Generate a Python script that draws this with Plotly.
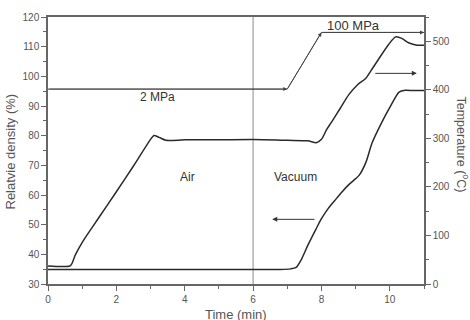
import plotly.graph_objects as go

# Relative density curve (left axis)
dens_t = [0, 1, 2, 3, 4, 5, 6, 6.8, 7.1, 7.26, 7.4, 7.6, 7.84, 8.0, 8.2, 8.43, 8.6, 8.8, 9.0, 9.1,
          9.3, 9.48, 9.78, 10.0, 10.27, 10.45, 10.7, 11.0]
dens_v = [34.9, 34.9, 34.9, 34.9, 34.85, 34.85, 34.85, 34.9, 35.1, 35.6, 38, 43, 48.5, 52, 55.5, 58.7, 61, 63.5, 65.5, 66.6,
          71, 77.5, 84.8, 89.5, 94.7, 95.3, 95.2, 95.2]

# Temperature curve (right axis)
temp_t = [0, 0.64, 0.7, 0.8, 1.02, 1.5, 2.0, 2.5, 3.0, 3.1, 3.25, 3.45, 4, 5, 6, 7, 7.6, 7.85, 8.0, 8.15,
          8.3, 8.55, 8.8, 9.05, 9.3, 9.5, 9.68, 9.97, 10.17, 10.35, 10.55, 10.8, 11.0]
temp_v = [37, 37, 42, 60, 88, 138, 190, 243, 298, 306, 302, 296, 297, 297, 297.5, 296, 295, 291, 298, 318,
          334, 362, 390, 410, 424, 445, 464, 494, 509, 506, 497, 492, 492]

# Pressure program path (left-axis units)
press_t = [0, 7.0, 8.0, 11.0]
press_v = [95.7, 95.7, 114.8, 114.8]

divider_t = 6
labels = ["2 MPa", "100 MPa", "Air", "Vacuum"]
label_t = [3.2, 8.95, 4.08, 7.25]
label_v = [93, 117, 66, 66]

# curve-identifying arrows: (tail_t, tail_v, head_t, head_v)
arrow_right = (9.53, 101, 10.79, 101)
arrow_left = (7.84, 51.8, 6.56, 51.8)

axis_col = "#666666"
text_col = "#555555"
curve_col = "#2a2a2a"
font = "Liberation Sans, Arial, sans-serif"

fig = go.Figure()
fig.add_trace(go.Scatter(x=press_t, y=press_v, mode="lines",
                         line=dict(color="#444444", width=1), showlegend=False))
fig.add_trace(go.Scatter(x=dens_t, y=dens_v, mode="lines",
                         line=dict(color=curve_col, width=1.5, shape="spline", smoothing=0.7),
                         showlegend=False))
fig.add_trace(go.Scatter(x=temp_t, y=temp_v, mode="lines", yaxis="y2",
                         line=dict(color=curve_col, width=1.5, shape="spline", smoothing=0.7),
                         showlegend=False))

fig.add_shape(type="line", x0=divider_t, x1=divider_t, y0=0, y1=1, xref="x", yref="paper",
              line=dict(color="#8a8a8a", width=1), layer="below")

ann = []
sizes = [12, 13, 12, 12]
for txt, t, v, s in zip(labels, label_t, label_v, sizes):
    ann.append(dict(x=t, y=v, xref="x", yref="y", text=txt, showarrow=False,
                    font=dict(size=s, color="#333333", family=font)))
# pressure arrowheads
for i in range(1, len(press_t)):
    ann.append(dict(x=press_t[i], y=press_v[i], ax=press_t[i-1], ay=press_v[i-1],
                    xref="x", yref="y", axref="x", ayref="y", text="", showarrow=True,
                    arrowhead=2, arrowsize=1, arrowwidth=0.8, arrowcolor="#444444"))
for a in (arrow_right, arrow_left):
    ann.append(dict(x=a[2], y=a[3], ax=a[0], ay=a[1], xref="x", yref="y", axref="x", ayref="y",
                    text="", showarrow=True, arrowhead=2, arrowsize=1, arrowwidth=1,
                    arrowcolor="#333333"))
ann.append(dict(x=1.0, y=0.5, xref="paper", yref="paper", xshift=39, yshift=6,
                xanchor="center", yanchor="middle",
                text="Temperature (<sup>o</sup>C)", textangle=90, showarrow=False,
                font=dict(size=12.5, color=text_col, family=font)))
ann.append(dict(x=0.0, y=0.5, xref="paper", yref="paper", xshift=-38, yshift=-1,
                xanchor="center", yanchor="middle",
                text="Relatvie density (%)", textangle=-90, showarrow=False,
                font=dict(size=13, color=text_col, family=font)))
ann.append(dict(x=0.5, y=0, xref="paper", yref="paper", yshift=-30, xanchor="center", yanchor="middle",
                text="Time (min)", showarrow=False, font=dict(size=13, color=text_col, family=font)))

fig.update_layout(
    width=470, height=320,
    margin=dict(l=48, r=46, t=11, b=36),
    paper_bgcolor="white", plot_bgcolor="white",
    font=dict(family=font, size=10, color=text_col),
    annotations=ann,
    hovermode=False,
    xaxis=dict(range=[0, 11], dtick=2, tick0=0, showline=True, linecolor=axis_col, linewidth=1.5,
               mirror=True, ticks="outside", ticklen=5, tickcolor=axis_col, showgrid=False,
               zeroline=False, minor=dict(dtick=1, ticklen=3, tickcolor=axis_col, ticks="outside",
                                          showgrid=False),
               tickfont=dict(size=10, color=text_col)),
    yaxis=dict(range=[30, 120], dtick=10, showline=True, linecolor=axis_col, linewidth=1.5,
               ticks="outside", ticklen=5, tickcolor=axis_col, showgrid=False, zeroline=False,
               minor=dict(dtick=5, ticklen=3, tickcolor=axis_col, ticks="outside", showgrid=False),
               tickfont=dict(size=10, color=text_col)),
    yaxis2=dict(range=[0, 550], dtick=100, overlaying="y", side="right", showline=True,
                linecolor=axis_col, linewidth=1.5, ticks="outside", ticklen=5, tickcolor=axis_col,
                showgrid=False, zeroline=False,
                minor=dict(dtick=50, ticklen=3, tickcolor=axis_col, ticks="outside", showgrid=False),
                tickfont=dict(size=10, color=text_col)),
)
fig.write_html("out.html")
